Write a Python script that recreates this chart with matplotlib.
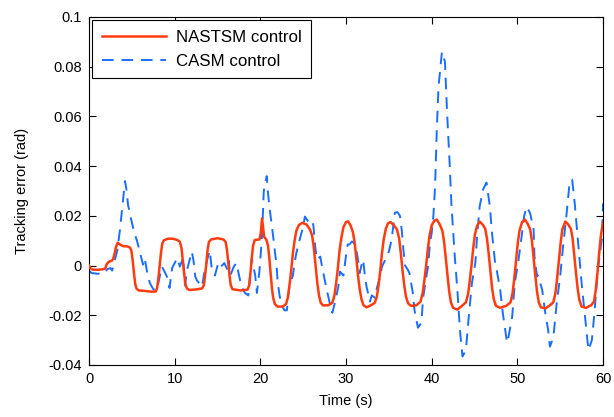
import matplotlib
matplotlib.use("Agg")
import matplotlib.pyplot as plt

plt.rcParams['font.family'] = ['Liberation Sans', 'DejaVu Sans']

# NASTSM control (red, solid): time (s), error (rad)
red_t = [0.0, 0.15, 0.4, 1.0, 1.6, 1.9, 2.05, 2.3, 2.7, 2.85, 3.0, 3.15, 3.35, 3.6, 4.0,
         4.5, 4.8, 4.95, 5.1, 5.25, 5.4, 5.55, 5.8, 6.5, 7.3, 7.8, 7.95, 8.1, 8.25, 8.4,
         8.55, 8.75, 9.2, 9.8, 10.3, 10.6, 10.8, 10.95, 11.1, 11.25, 11.45, 11.7, 12.5,
         13.2, 13.4, 13.55, 13.7, 13.85, 14.0, 14.25, 15.0, 15.7, 15.95, 16.1, 16.25,
         16.4, 16.55, 16.75, 17.7, 18.5, 18.7, 18.85, 19.0, 19.15, 19.35, 19.9, 20.05,
         20.2, 20.3, 20.45, 20.7, 20.9, 21.05, 21.2, 21.35, 21.5, 21.7, 22.0, 22.6, 23.0,
         23.2, 23.4, 23.6, 23.8, 24.0, 24.2, 24.5, 24.9, 25.4, 25.8, 26.05, 26.25, 26.45,
         26.65, 26.85, 27.05, 27.3, 27.9, 28.4, 28.65, 28.85, 29.05, 29.25, 29.45, 29.7,
         30.0, 30.25, 30.55, 30.8, 31.0, 31.2, 31.4, 31.6, 31.8, 32.05, 32.4, 32.9, 33.35,
         33.6, 33.8, 34.0, 34.2, 34.4, 34.65, 34.9, 35.2, 35.6, 35.95, 36.2, 36.4, 36.6,
         36.8, 37.0, 37.25, 37.6, 38.2, 38.7, 38.95, 39.15, 39.35, 39.55, 39.75, 40.0,
         40.3, 40.6, 40.95, 41.25, 41.45, 41.65, 41.85, 42.05, 42.25, 42.5, 43.0, 43.6,
         44.0, 44.25, 44.45, 44.65, 44.85, 45.05, 45.3, 45.6, 45.95, 46.25, 46.45, 46.65,
         46.85, 47.05, 47.25, 47.5, 48.0, 48.7, 49.2, 49.45, 49.65, 49.85, 50.05, 50.25,
         50.55, 50.9, 51.25, 51.5, 51.7, 51.9, 52.1, 52.3, 52.5, 52.75, 53.3, 53.8, 54.2,
         54.45, 54.65, 54.85, 55.05, 55.25, 55.6, 55.95, 56.25, 56.45, 56.65, 56.85,
         57.05, 57.25, 57.5, 58.0, 58.6, 58.95, 59.15, 59.35, 59.55, 59.75, 60.0]
red_y = [0.0, -0.001, -0.0016, -0.0017, -0.0015, -0.0012, 0.0005, 0.0015, 0.002, 0.003,
         0.005, 0.0075, 0.0092, 0.0085, 0.0078,
         0.0077, 0.0072, 0.006, 0.002, -0.003, -0.0075, -0.0093, -0.0100, -0.0102,
         -0.0105, -0.0104, -0.009, -0.005, 0.000, 0.005,
         0.0088, 0.0102, 0.0108, 0.0108, 0.0103, 0.0096, 0.007, 0.002, -0.003, -0.0075,
         -0.0093, -0.0098, -0.0096,
         -0.0092, -0.008, -0.004, 0.001, 0.0065, 0.0095, 0.0105, 0.011, 0.0105, 0.0095,
         0.0065, 0.0015,
         -0.004, -0.008, -0.0095, -0.0100, -0.0097, -0.008, -0.003, 0.003, 0.008,
         0.0103, 0.0105, 0.013,
         0.019, 0.016, 0.0115, 0.0105, 0.008, 0.003, -0.003, -0.009, -0.013, -0.0155,
         -0.0165, -0.0165, -0.0155,
         -0.013, -0.008, -0.002, 0.005, 0.010, 0.014, 0.0163, 0.0172, 0.0165, 0.0145,
         0.012, 0.007, 0.0,
         -0.007, -0.012, -0.015, -0.016, -0.016, -0.015, -0.012, -0.007, -0.001, 0.006,
         0.011, 0.0155,
         0.0175, 0.0178, 0.016, 0.0135, 0.0095, 0.003, -0.004, -0.0095, -0.0135, -0.016,
         -0.0168, -0.016, -0.015,
         -0.0125, -0.008, -0.002, 0.005, 0.0105, 0.0148, 0.017, 0.0175, 0.0162, 0.0145,
         0.011, 0.005, -0.002,
         -0.008, -0.0125, -0.0152, -0.0162, -0.016, -0.0145, -0.011, -0.006, 0.000,
         0.0065, 0.012, 0.0162,
         0.018, 0.0185, 0.0165, 0.014, 0.0095, 0.003, -0.004, -0.0105, -0.0148, -0.017,
         -0.0177, -0.016,
         -0.0148, -0.0115, -0.006, 0.000, 0.007, 0.0125, 0.016, 0.0177, 0.0165, 0.0148,
         0.011, 0.005,
         -0.002, -0.009, -0.0135, -0.0162, -0.0170, -0.0162, -0.0148, -0.011, -0.005,
         0.002, 0.009, 0.014,
         0.0175, 0.0185, 0.0165, 0.0145, 0.010, 0.003, -0.004, -0.0105, -0.0148, -0.0168,
         -0.0172, -0.016, -0.0148,
         -0.011, -0.005, 0.002, 0.009, 0.0145, 0.0177, 0.0165, 0.0148, 0.011, 0.004,
         -0.003,
         -0.0095, -0.014, -0.0165, -0.017, -0.016, -0.0145, -0.010, -0.003, 0.005, 0.012,
         0.0175]

# CASM control (blue, dashed): time (s), error (rad)
blue_t = [0.0, 0.3, 1.0, 1.9, 2.1, 2.5, 2.7, 3.0, 3.3, 3.6, 3.9, 4.2, 4.4, 4.55, 5.0,
          5.3, 5.6, 5.9, 6.3, 6.5, 6.8, 7.1, 7.5, 7.9, 8.1, 8.5, 8.9, 9.1, 9.4, 9.7,
          10.0, 10.3, 10.6, 11.0, 11.2, 11.5, 12.0, 12.2, 12.4, 12.6, 13.2, 13.4, 13.8,
          14.1, 14.3, 14.7, 15.1, 15.4, 15.8, 16.2, 16.3, 16.5, 16.9, 17.2, 17.8, 18.2,
          18.6, 18.8, 19.0, 19.4, 19.6, 19.9, 20.2, 20.4, 20.75, 20.9, 21.1, 21.3, 21.5,
          21.7, 21.9, 22.0, 22.2, 22.4, 22.8, 23.1, 23.2, 23.4, 23.8, 24.0, 24.2, 24.6,
          25.0, 25.2, 25.6, 26.0, 26.2, 26.4, 26.6, 27.0, 27.2, 27.3, 27.5, 27.7, 28.1,
          28.4, 28.7, 29.1, 29.3, 29.7, 30.0, 30.2, 30.4, 30.7, 31.1, 31.4, 31.6, 31.8,
          32.0, 32.2, 32.4, 32.8, 33.0, 33.4, 33.6, 34.0, 34.2, 34.6, 35.0, 35.2, 35.4,
          35.7, 36.0, 36.3, 36.5, 36.7, 36.9, 37.2, 37.4, 37.8, 38.0, 38.4, 38.8, 39.0,
          39.4, 39.6, 39.8, 40.0, 40.2, 40.4, 40.6, 40.8, 41.2, 41.55, 41.8, 42.1, 42.3,
          42.7, 43.0, 43.3, 43.6, 44.0, 44.3, 44.7, 45.1, 45.3, 45.6, 46.0, 46.4, 46.8,
          47.0, 47.4, 47.6, 48.0, 48.3, 48.8, 48.9, 49.4, 49.7, 50.1, 50.5, 50.8, 51.1,
          51.5, 51.9, 52.0, 52.3, 52.4, 52.9, 53.2, 53.6, 53.8, 54.2, 54.6, 55.0, 55.3,
          55.8, 56.1, 56.4, 56.7, 57.1, 57.5, 57.9, 58.3, 58.7, 59.0, 59.4, 59.9, 60.0]
blue_y = [-0.002, -0.003, -0.0033, -0.003, -0.0015, -0.001, -0.002, 0.002, 0.006, 0.014,
          0.024, 0.034, 0.030, 0.0245, 0.0173,
          0.013, 0.010, 0.006, 0.0004, 0.003, -0.003, -0.007, -0.0095, -0.010, -0.007,
          -0.0004, -0.003, -0.0045, -0.009, -0.001,
          0.001, 0.003, -0.0004, 0.0032, -0.008, -0.001, 0.0056, 0.002, -0.0044, -0.006,
          -0.0085, -0.004, 0.0024,
          0.006, -0.0004, -0.004, 0.0012, -0.0004, 0.001, -0.002, 0.002, -0.004, -0.0004,
          0.001, -0.0085, -0.011,
          -0.012, -0.004, 0.003, -0.004, -0.011, -0.002, 0.012, 0.030, 0.036, 0.029,
          0.0225, 0.017, 0.0117,
          0.0056, 0.0, -0.0056, -0.011, -0.015, -0.018, -0.018, -0.014, -0.0085, -0.004,
          0.0012, 0.005, 0.0105,
          0.0157, 0.0197, 0.0177, 0.0185, 0.016, 0.0077, 0.0024, 0.0036, -0.0004, -0.002,
          -0.0056, -0.009, -0.015,
          -0.019, -0.015, -0.0085, -0.0024, -0.004, 0.004, 0.0085, 0.0085, 0.0097, 0.0085,
          0.0024, -0.003, 0.0,
          0.0024, -0.004, -0.0085, -0.0145, -0.012, -0.013, -0.009, -0.0044, -0.0004,
          0.0024, 0.0056, 0.0085, 0.0125,
          0.0213, 0.0215, 0.020, 0.0145, 0.0064, 0.0, -0.0016, -0.003, -0.011, -0.018,
          -0.025, -0.023, -0.013,
          -0.004, 0.0, 0.009, 0.013, 0.020, 0.032, 0.055, 0.072, 0.086, 0.082, 0.0615,
          0.041, 0.025,
          0.0036, -0.0097, -0.026, -0.0366, -0.034, -0.0217, -0.007, 0.0012, 0.0117,
          0.0237, 0.0306, 0.0334, 0.0237,
          0.0145, 0.0012, -0.002, -0.0097, -0.019, -0.031, -0.030, -0.0205, -0.007,
          0.0012, 0.0117, 0.020, 0.0237,
          0.021, 0.0145, 0.0036, -0.0044, -0.004, -0.0097, -0.0177, -0.026, -0.0326,
          -0.029, -0.015, -0.0044, 0.0064,
          0.0225, 0.0334, 0.0346, 0.025, 0.009, -0.007, -0.0205, -0.034, -0.030, -0.019,
          -0.0016, 0.0117, 0.025]

x_ticks = [0, 10, 20, 30, 40, 50, 60]
y_ticks = [-0.04, -0.02, 0, 0.02, 0.04, 0.06, 0.08, 0.1]
y_tick_labels = ['-0.04', '-0.02', '0', '0.02', '0.04', '0.06', '0.08', '0.1']
series_labels = ['NASTSM control', 'CASM control']

fig = plt.figure(figsize=(6.14, 4.17), dpi=100)
ax = fig.add_axes([89 / 614, 1 - 365 / 417, (603 - 89) / 614, (365 - 17) / 417])

ax.plot(red_t, red_y, color='#FF3B10', lw=1.8, label=series_labels[0], zorder=3)
ax.plot(blue_t, blue_y, color='#1A6EFF', lw=1.4, linestyle=(0, (6, 4)),
        label=series_labels[1], zorder=2)

ax.set_xlim(0, 60)
ax.set_ylim(-0.04, 0.1)
ax.set_xticks(x_ticks)
ax.set_xticklabels([str(v) for v in x_ticks])
ax.set_yticks(y_ticks)
ax.set_yticklabels(y_tick_labels)
ax.tick_params(direction='in', top=True, right=True, length=5, width=0.8,
               labelsize=10.5, pad=5)
for s in ax.spines.values():
    s.set_linewidth(0.8)
ax.set_xlabel('Time (s)', fontsize=10.5, labelpad=6)
ax.set_ylabel('Tracking error (rad)', fontsize=10.5, labelpad=14)

leg = ax.legend(loc='upper left', fontsize=12.2, frameon=True, fancybox=False,
                edgecolor='black', framealpha=1, handlelength=3.8,
                borderaxespad=0.2, handletextpad=0.6, labelspacing=0.55,
                borderpad=0.55)
leg.get_frame().set_linewidth(0.8)

fig.savefig('out.png', dpi=100)
